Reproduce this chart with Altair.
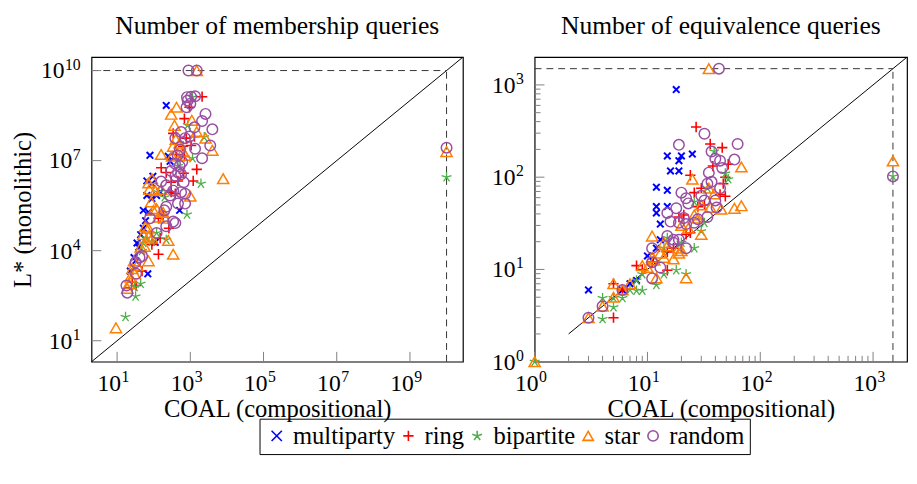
import altair as alt
import pandas as pd

# ---------------- data ----------------
SERIES = ["multiparty", "ring", "bipartite", "star", "random"]
COLORS = ["#0000ff", "#ff0000", "#4daf4a", "#ff7f00", "#984ea3"]

TIMEOUT_MQ = 1e10
TIMEOUT_EQ = 1500

# Number of membership queries: (Coal, L*)
MQ_MULTIPARTY = [(220, 6.9e8), (79, 1.5e7), (250, 1.4e7), (280, 9.5e6), (65, 2.1e6), (89, 1.7e6),
                 (65, 6.9e5), (89, 5.4e5), (120, 6.9e5), (150, 8.9e5), (52, 2.2e5), (72, 1.9e5),
                 (510, 2.2e5), (44, 3.4e4), (52, 5.6e4), (35, 1.8e4), (39, 1.3e4), (29, 5.9e3),
                 (32, 4.6e3), (69, 1.7e3), (23, 2.1e3), (110, 1.9e4), (60, 1.0e5), (95, 3.0e6)]
MQ_RING = [(2100, 1.35e9), (950, 6e8), (690, 2.5e8), (340, 8.1e7), (780, 5.6e7), (1300, 6.3e7),
           (630, 3e7), (1050, 3.2e7), (420, 1.6e7), (690, 1.4e7), (160, 5.8e6), (220, 4e6),
           (1500, 5.1e6), (660, 3.8e6), (1200, 2.1e6), (300, 1.9e6), (460, 2.1e6), (300, 8.9e5),
           (390, 7.9e5), (135, 1.2e5), (180, 1.5e5), (260, 5.6e4), (150, 2.6e4), (135, 7.6e3),
           (89, 1.6e4), (48, 2.1e3), (26, 890), (33, 690)]
MQ_BIPARTITE = [(1150, 1.3e9), (850, 1.5e8), (2400, 6e7), (1150, 1.2e7), (1950, 1.7e6), (460, 6.6e6),
                (135, 8.9e5), (200, 6e5), (810, 1.6e5), (65, 2.6e4), (89, 2e4), (52, 1.8e4),
                (120, 3.9e4), (220, 2.3e4), (44, 790), (30, 620), (32, 300), (17, 62), (48, 9.8e3),
                (TIMEOUT_MQ, 2.8e6)]
MQ_STAR = [(1500, TIMEOUT_MQ), (420, 6e8), (300, 3.5e8), (1100, 2.2e8), (370, 1.5e8), (1500, 9.1e7),
           (2600, 5.6e7), (400, 5.1e7), (510, 3.8e7), (340, 3e7), (630, 2e7), (720, 1.5e7),
           (4000, 2.2e7), (160, 1.6e7), (320, 1.4e7), (7900, 2.5e6), (89, 2.5e6), (72, 1.8e6),
           (76, 1.1e6), (110, 1e6), (160, 1.1e6), (1000, 6.5e5), (85, 4.2e5), (98, 2.2e5),
           (120, 2.5e5), (180, 1.9e5), (135, 1.3e5), (200, 1.2e5), (59, 6.3e4), (72, 5.6e4),
           (52, 3.4e4), (72, 3e4), (89, 2.6e4), (250, 2.2e4), (44, 1.3e4), (56, 1.4e4),
           (340, 7.6e3), (72, 4.6e3), (29, 4.6e3), (35, 3.2e3), (26, 2.5e3), (30, 1.7e3),
           (23, 1.3e3), (21, 790), (19, 550), (9.3, 27), (TIMEOUT_MQ, 2.0e7)]
MQ_RANDOM = [(890, TIMEOUT_MQ), (1500, TIMEOUT_MQ), (810, 1.3e9), (1050, 1.35e9), (1350, 1.4e9),
             (850, 1e9), (1000, 7.8e8), (790, 6e8), (2600, 3.6e8), (2100, 2.1e8), (4000, 1.1e8),
             (1300, 1.3e8), (560, 9e7), (390, 5.6e7), (720, 5.6e7), (950, 6.3e7), (3500, 3.2e7),
             (1350, 2.5e7), (2100, 1.2e7), (510, 6.6e6), (460, 4e6), (560, 3.5e6), (390, 3.1e6),
             (660, 1.9e6), (160, 2e6), (220, 1.5e6), (560, 8.9e5), (720, 7.9e5), (340, 1e6),
             (280, 6.9e5), (460, 3.7e5), (720, 3.7e5), (220, 2.9e5), (195, 2.2e5), (79, 1.2e5),
             (340, 9.3e4), (390, 8.3e4), (220, 6.5e4), (120, 3.9e4), (48, 6.6e3), (41, 5.9e3),
             (32, 4.1e3), (33, 1.7e3), (18, 690), (19, 400), (450, 1.5e7), (600, 9e6), (380, 8e6),
             (520, 2.3e7), (300, 4.5e6), (TIMEOUT_MQ, 2.7e7)]

# Number of equivalence queries: (Coal, L*)
EQ_MULTIPARTY = [(18, 890), (15, 170), (19, 151), (20, 170), (25, 178), (16, 117), (19, 117),
                 (12, 78), (15, 72), (12, 48), (12, 41), (15, 48), (13, 31), (13, 21), (12, 17),
                 (10, 14), (11, 12.6), (8, 7.6), (7, 7), (6, 6), (3, 6)]
EQ_RING = [(27, 350), (36, 229), (46, 209), (52, 138), (38, 132), (24, 105), (49, 100), (47, 85),
           (30, 76), (26, 68), (44, 65), (49, 62), (32, 50), (28, 48), (19, 37), (21, 39), (22, 24),
           (24, 25), (17, 17), (15, 15.5), (15, 9.8), (8, 11), (9, 10), (11, 12), (5, 7), (6, 6),
           (5, 3)]
EQ_BIPARTITE = [(39, 190), (49, 110), (52, 95), (34, 76), (26, 54), (32, 32), (30, 26), (26, 17),
                (20, 19.5), (18, 9.8), (22, 8.9), (14, 8.9), (12, 6.8), (8, 7.6), (9, 8.9), (7, 6),
                (8, 5.9), (9, 5.9), (4, 4.9), (5, 4.9), (5, 3.9), (4, 2.9), (6, 4.9), (14, 17),
                (15, 22), (1, 1), (TIMEOUT_EQ, 102)]
EQ_STAR = [(35, TIMEOUT_EQ), (68, 129), (25, 95), (35, 76), (39, 66), (45, 45), (59, 46), (68, 49),
           (30, 50), (36, 47), (26, 39), (28, 36), (20, 30), (23, 28), (11, 23), (30, 24), (14, 19.5),
           (15, 18), (19, 17), (20, 16), (13, 15), (14, 13.5), (17, 13), (19, 15), (11, 13.5),
           (11.5, 12.6), (9, 11), (10, 10.5), (22, 8.1), (12, 8.1), (7, 7), (6, 6), (5, 7), (5, 5),
           (4, 4), (3, 3), (1, 1), (TIMEOUT_EQ, 150)]
EQ_RANDOM = [(43, TIMEOUT_EQ), (32, 295), (19, 224), (63, 229), (37, 190), (40, 158), (44, 151),
             (46, 126), (59, 155), (35, 112), (37, 89), (34, 85), (44, 76), (20, 68), (22, 59),
             (23, 52), (30, 63), (32, 56), (40, 56), (41, 47), (18, 46), (15, 41), (34, 37), (16, 33),
             (19, 32), (21, 36), (22, 31), (26, 32), (28, 35), (15, 23), (17, 21), (19, 21),
             (17, 19.5), (22, 17), (11, 17), (11, 12), (13, 10.5), (11, 8), (6, 6), (4, 4), (3, 3),
             (TIMEOUT_EQ, 102)]

MQ_DATA = [MQ_MULTIPARTY, MQ_RING, MQ_BIPARTITE, MQ_STAR, MQ_RANDOM]
EQ_DATA = [EQ_MULTIPARTY, EQ_RING, EQ_BIPARTITE, EQ_STAR, EQ_RANDOM]

MQ_DOMAIN = [2, 2.8e10]
EQ_DOMAIN = [1, 2000]

# tick values and the exponents shown as labels (10^e)
MQ_X_TICKS = [1e1, 1e3, 1e5, 1e7, 1e9]
MQ_X_EXP = ["1", "3", "5", "7", "9"]
MQ_Y_TICKS = [1e1, 1e4, 1e7, 1e10]
MQ_Y_EXP = ["1", "4", "7", "10"]
EQ_TICKS = [1, 10, 100, 1000]
EQ_EXP = ["0", "1", "2", "3"]
EQ_MINOR = [2, 3, 4, 5, 6, 7, 8, 9, 20, 30, 40, 50, 60, 70, 80, 90,
            200, 300, 400, 500, 600, 700, 800, 900]
LABEL_BASE = "10"

TITLES = ["Number of membership queries", "Number of equivalence queries"]
X_TITLE = "COAL (compositional)"
Y_TITLE = "L* (monolithic)"

# ---------------- style ----------------
FONT = "Liberation Serif"
STAR5 = "M0,0L0,-1M0,0L0.951,-0.309M0,0L0.588,0.809M0,0L-0.588,0.809M0,0L-0.951,-0.309"
SHAPES = ["M-1,-1L1,1M-1,1L1,-1", "M-1,0L1,0M0,-1L0,1", STAR5, "triangle-up", "circle"]
SIZES = [45, 110, 110, 130, 115]
STROKES = [2.0, 1.6, 1.3, 1.5, 1.5]
H = 310
TICK_COLOR = "#808080"
BASE_FS = 24
EXP_FS = 16


def panel(data, domain, timeout, xticks, xexp, yticks, yexp, minor, width, title, ytitle):
    xs = alt.Scale(type="log", domain=domain, nice=False)
    ys = alt.Scale(type="log", domain=domain, nice=False)
    xaxis = alt.Axis(title=X_TITLE, labels=False, ticks=False, domain=False, grid=False,
                     titlePadding=36, titleFont=FONT, titleFontSize=25,
                     titleFontWeight="normal", titleColor="black")
    yaxis = alt.Axis(title=ytitle, labels=False, ticks=False, domain=False, grid=False,
                     titlePadding=57, titleFont=FONT, titleFontSize=25,
                     titleFontWeight="normal", titleColor="black")
    color_scale = alt.Scale(domain=SERIES, range=COLORS)
    shape_scale = alt.Scale(domain=SERIES, range=SHAPES)
    leg = alt.Legend(title=None, orient="none", direction="horizontal", legendX=171, legendY=368,
                     labelFont=FONT, labelFontSize=25, labelColor="black", strokeColor="black",
                     padding=5, symbolSize=110, symbolStrokeWidth=1.6, columnPadding=0,
                     labelOffset=4, labelLimit=400, gridAlign="none")

    def X(f):
        return alt.X(f, scale=xs, axis=xaxis, title=X_TITLE)

    def Y(f):
        return alt.Y(f, scale=ys, axis=yaxis, title=ytitle)

    layers = []
    # diagonal y = x
    diag = pd.DataFrame({"a": [2], "b": [domain[1]]})
    layers.append(alt.Chart(diag).mark_rule(color="black", strokeWidth=1).encode(
        x=X("a:Q"), x2="b:Q", y=Y("a:Q"), y2="b:Q"))
    # timeout dashed lines
    hd = pd.DataFrame({"x0": [domain[0]], "x1": [timeout], "y0": [timeout]})
    layers.append(alt.Chart(hd).mark_rule(color="#333", strokeWidth=1, strokeDash=[7, 5]).encode(
        x=X("x0:Q"), x2="x1:Q", y=Y("y0:Q")))
    vd = pd.DataFrame({"x0": [timeout], "y0": [domain[0]], "y1": [timeout]})
    layers.append(alt.Chart(vd).mark_rule(color="#333", strokeWidth=1, strokeDash=[7, 5]).encode(
        x=X("x0:Q"), y=Y("y0:Q"), y2="y1:Q"))
    # inward ticks
    for vals, ln in ((xticks, 10), (minor, 6)):
        if vals:
            d = pd.DataFrame({"v": vals})
            layers.append(alt.Chart(d).mark_rule(color=TICK_COLOR, strokeWidth=1).encode(
                x=X("v:Q"), y=alt.value(H), y2=alt.value(H - ln)))
    for vals, ln in ((yticks, 10), (minor, 6)):
        if vals:
            d = pd.DataFrame({"v": vals})
            layers.append(alt.Chart(d).mark_rule(color=TICK_COLOR, strokeWidth=1).encode(
                y=Y("v:Q"), x=alt.value(0), x2=alt.value(ln)))
    # tick labels 10^e  (base + raised exponent)
    xl = pd.DataFrame({"v": xticks, "e": xexp, "b": LABEL_BASE})
    layers.append(alt.Chart(xl).mark_text(font=FONT, fontSize=BASE_FS, align="right", dx=4,
                                          baseline="alphabetic", color="black").encode(
        x=X("v:Q"), y=alt.value(H + 30), text="b:N"))
    layers.append(alt.Chart(xl).mark_text(font=FONT, fontSize=EXP_FS, align="left", dx=4.5,
                                          baseline="alphabetic", color="black").encode(
        x=X("v:Q"), y=alt.value(H + 21), text="e:N"))
    yl = pd.DataFrame({"v": yticks, "e": yexp, "b": LABEL_BASE})
    layers.append(alt.Chart(yl).mark_text(font=FONT, fontSize=EXP_FS, align="right", dy=-1,
                                          baseline="alphabetic", color="black").encode(
        y=Y("v:Q"), x=alt.value(-11), text="e:N"))
    for n, off in ((1, -19.5), (2, -27.5)):
        layers.append(alt.Chart(yl).transform_filter(f"length(datum.e) == {n}").mark_text(
            font=FONT, fontSize=BASE_FS, align="right", dy=8, baseline="alphabetic",
            color="black").encode(y=Y("v:Q"), x=alt.value(off), text="b:N"))
    # points
    for i, s in enumerate(SERIES):
        df = pd.DataFrame(data[i], columns=["x", "y"])
        df["series"] = s
        layers.append(alt.Chart(df).mark_point(filled=False, opacity=1, size=SIZES[i],
                                               strokeWidth=STROKES[i]).encode(
            x=X("x:Q"), y=Y("y:Q"),
            color=alt.Color("series:N", scale=color_scale, legend=leg),
            shape=alt.Shape("series:N", scale=shape_scale, legend=leg)))
    return alt.layer(*layers).properties(width=width, height=H, title=title)


left = panel(MQ_DATA, MQ_DOMAIN, TIMEOUT_MQ, MQ_X_TICKS, MQ_X_EXP, MQ_Y_TICKS, MQ_Y_EXP,
             [], 378, TITLES[0], Y_TITLE)
right = panel(EQ_DATA, EQ_DOMAIN, TIMEOUT_EQ, EQ_TICKS, EQ_EXP, EQ_TICKS, EQ_EXP,
              EQ_MINOR, 379, TITLES[1], "")

chart = alt.hconcat(left, right, spacing=26).properties(
    padding={"left": 2, "top": 0, "right": 0, "bottom": 0}
).configure(font=FONT).configure_view(
    stroke="black", strokeWidth=1.2
).configure_axis(
    titleFont=FONT, titleFontSize=25, titleFontWeight="normal", titleColor="black"
).configure_title(
    font=FONT, fontSize=26, fontWeight="normal", color="black", anchor="middle", offset=18
).configure_legend(
    labelFont=FONT, labelFontSize=25, labelColor="black", strokeColor="black"
)

chart.save("out.html", embed_options={"renderer": "svg", "actions": False})
